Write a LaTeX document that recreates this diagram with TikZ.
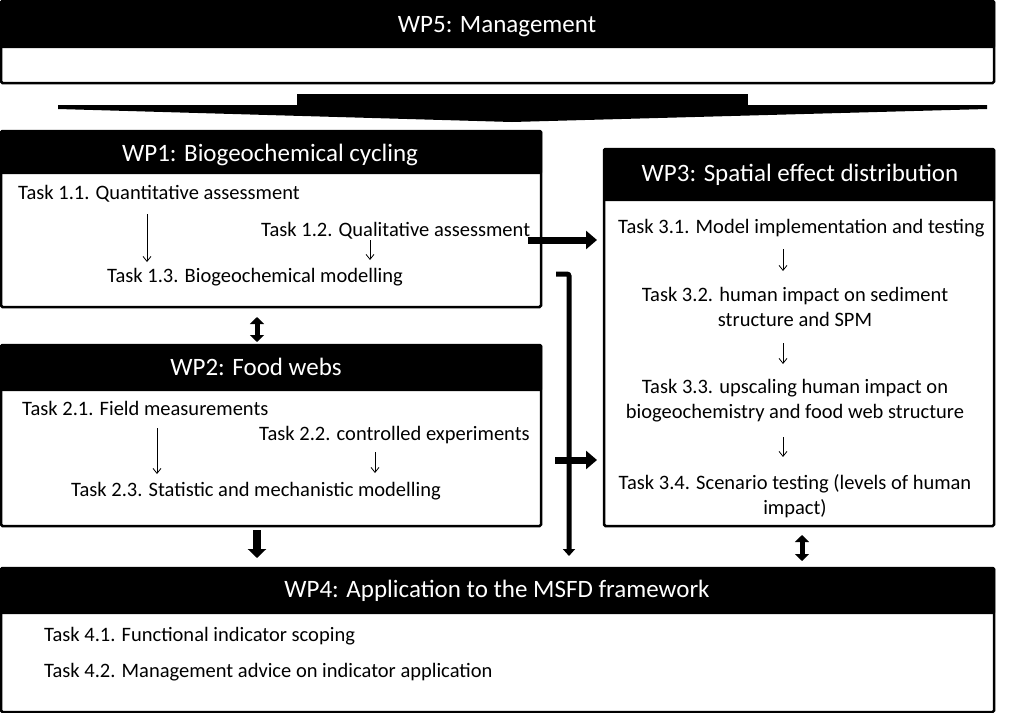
\documentclass[tikz,border=0pt]{standalone}
\usepackage{fontspec}
\setmainfont{Carlito}
\usetikzlibrary{arrows.meta}
\tikzset{
  wpbox/.style={draw=black, line width=2.5pt, rounded corners=1.5pt, fill=white},
  wphead/.style={fill=black, rounded corners=1.5pt},
  wptitle/.style={white, font=\fontsize{25}{28}\selectfont},
  task/.style={font=\fontsize{20.5}{24}\selectfont, inner sep=0pt},
  thinarr/.style={-{Straight Barb[length=5pt,width=8pt]}, line width=0.8pt},
  fatarr/.style={-{Triangle[length=11pt,width=18pt]}, line width=7pt},
  fatdbl/.style={{Triangle[length=7pt,width=14pt]}-{Triangle[length=7pt,width=14pt]}, line width=5pt}
}
\begin{document}
\begin{tikzpicture}[x=1pt,y=-1pt]
\useasboundingbox (0,0) rectangle (1016,712);
% WP5
\draw[wpbox] (1,1) rectangle (994,83);
\fill[wphead] (0,0) rectangle (995,48);
\node[wptitle] (wp5) at (497,27) {WP5: Management};
% big arrow
\fill (297,94) rectangle (748,106);
\fill (58,105) -- (987,105) -- (987,109) -- (512,122) -- (58,109) -- cycle;
% WP1
\draw[wpbox] (1,131) rectangle (541,307);
\fill[wphead] (0,130) rectangle (542,174);
\node[wptitle] (wp1) at (270,155) {WP1: Biogeochemical cycling};
\node[task, anchor=west] (t11) at (18,194) {Task 1.1. Quantitative assessment};
\node[task, anchor=west] (t12) at (261,231) {Task 1.2. Qualitative assessment};
\node[task, anchor=west] (t13) at (107,277) {Task 1.3. Biogeochemical modelling};
\coordinate (a11) at (147,214);
\coordinate (b11) at (147,262);
\coordinate (a12) at (370,240);
\coordinate (b12) at (370,260);
\draw[thinarr] (a11) -- (b11);
\draw[thinarr] (a12) -- (b12);
% WP2
\draw[wpbox] (1,345) rectangle (541,526);
\fill[wphead] (0,344) rectangle (542,391);
\node[wptitle] (wp2) at (256,367) {WP2: Food webs};
\node[task, anchor=west] (t21) at (22,408) {Task 2.1. Field measurements};
\node[task, anchor=west] (t22) at (259,435) {Task 2.2. controlled experiments};
\node[task, anchor=west] (t23) at (71,491) {Task 2.3. Statistic and mechanistic modelling};
\coordinate (a21) at (157,428);
\coordinate (b21) at (157,474);
\coordinate (a22) at (375,452);
\coordinate (b22) at (375,473);
\draw[thinarr] (a21) -- (b21);
\draw[thinarr] (a22) -- (b22);
% WP3
\draw[wpbox] (604,149) rectangle (994,526);
\fill[wphead] (603,148) rectangle (995,201);
\node[wptitle] (wp3) at (800,175) {WP3: Spatial effect distribution};
\node[task, anchor=west] (t31) at (618,228) {Task 3.1. Model implementation and testing};
\node[task, align=center] (t32) at (795,307) {Task 3.2. human impact on sediment\\[1pt]structure and SPM};
\node[task, align=center] (t33) at (795,401) {Task 3.3. upscaling human impact on\\[1pt]biogeochemistry and food web structure};
\node[task, align=center] (t34) at (795,496) {Task 3.4. Scenario testing (levels of human\\[1pt]impact)};
\coordinate (a31) at (783,249);
\coordinate (b31) at (783,271);
\coordinate (a32) at (783,343);
\coordinate (b32) at (783,364);
\coordinate (a33) at (783,437);
\coordinate (b33) at (783,457);
\draw[thinarr] (a31) -- (b31);
\draw[thinarr] (a32) -- (b32);
\draw[thinarr] (a33) -- (b33);
% WP4
\draw[wpbox] (1,568) rectangle (994,712);
\fill[wphead] (0,567) rectangle (995,614);
\node[wptitle] (wp4) at (497,591) {WP4: Application to the MSFD framework};
\node[task, anchor=west] (t41) at (44,636) {Task 4.1. Functional indicator scoping};
\node[task, anchor=west] (t42) at (44,672) {Task 4.2. Management advice on indicator application};
% connectors between work packages
\coordinate (r1s) at (528,240);
\coordinate (r1e) at (597,240);
\coordinate (r2s) at (555,460);
\coordinate (r2e) at (597,460);
\coordinate (vs) at (556,274);
\coordinate (vk) at (569,274);
\coordinate (ve) at (569,556);
\draw[fatarr] (r1s) -- (r1e);
\draw[fatarr] (r2s) -- (r2e);
\draw[-{Triangle[length=7pt,width=12pt]}, line width=5pt, rounded corners=2pt] (vs) -- (vk) -- (ve);
\draw[fatdbl] (257,317) -- (257,342);
\draw[fatdbl] (802,535) -- (802,561);
\draw[-{Triangle[length=9pt,width=18pt]}, line width=8pt] (257,530) -- (257,558);
\end{tikzpicture}
\end{document}
